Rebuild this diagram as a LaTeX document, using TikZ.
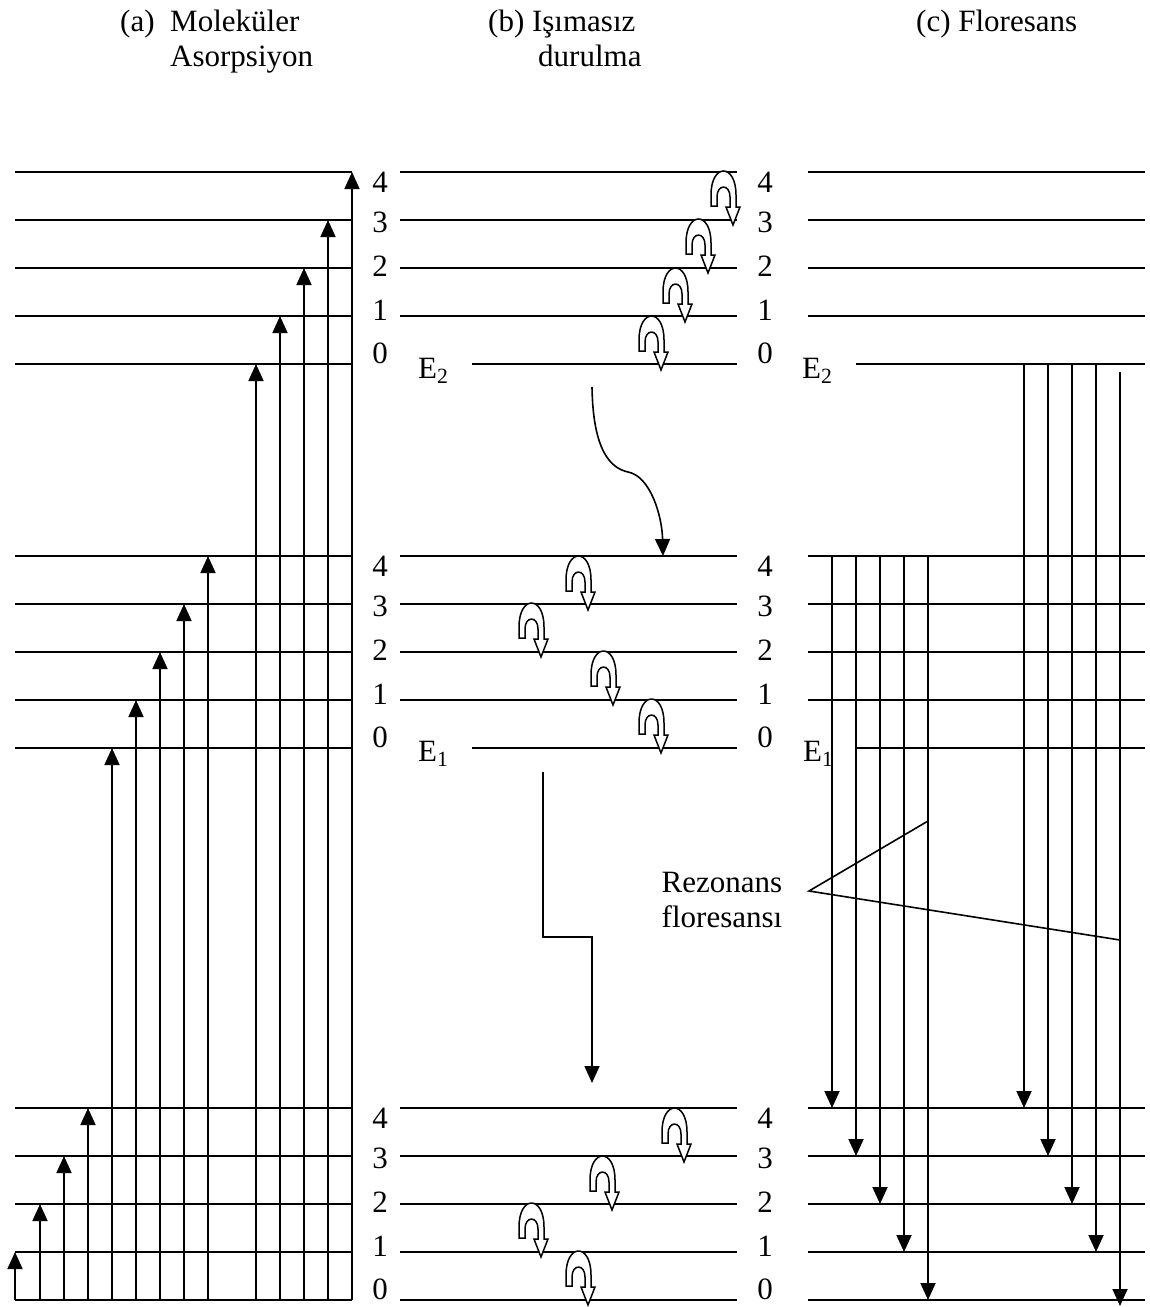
\documentclass[tikz,border=0pt]{standalone}
\usepackage{fontspec}
\setmainfont{Liberation Serif}
\usetikzlibrary{arrows.meta}
\newcommand\uarr[2]{%
  \draw[hollow] ($(#1,#2)+(-22,-19)$) -- ++(0,-11)
    .. controls +(0,-32) and +(0,-32) .. ++(25,0)
    -- ++(0,12) -- ++(4,0) -- ++(-7,18) -- ++(-7,-18) -- ++(4,0) -- ++(0,-10)
    .. controls +(0,-13.3) and +(0,-13.3) .. ++(-13,0)
    -- ++(0,9) -- cycle;}
\usetikzlibrary{calc}
\begin{document}
\begin{tikzpicture}[x=1pt,y=-1pt,
  lvl/.style={line width=1.8pt},
  uparr/.style={line width=1.8pt,-{Triangle[width=15pt,length=17pt]}},
  conn/.style={line width=1.6pt,-{Triangle[width=15pt,length=17pt]}},
  lbl/.style={font=\fontsize{31}{35}\selectfont, inner sep=0pt},
  hollow/.style={draw, line width=1.5pt, fill=white, line join=miter}
]
\useasboundingbox (0,0) rectangle (1150,1307);

% ---------- titles ----------
\node[lbl, anchor=base west] (ta) at (120,31) {(a)};
\node[lbl, anchor=base west] (ta1) at (170,31) {Moleküler};
\node[lbl, anchor=base west] (ta2) at (170,66) {Asorpsiyon};
\node[lbl, anchor=base west] (tb) at (488,31) {(b) Işımasız};
\node[lbl, anchor=base west] (tb2) at (538,66) {durulma};
\node[lbl, anchor=base west] (tc) at (916,31) {(c) Floresans};

% ---------- level lines ----------
\foreach \g in {172,556,1108}{
  \foreach \k in {0,...,4}{
    \pgfmathsetmacro\yy{\g+48*(4-\k)}
    \draw[lvl] (15,\yy) -- (352,\yy);
  }
  \foreach \k in {1,...,4}{
    \pgfmathsetmacro\yy{\g+48*(4-\k)}
    \draw[lvl] (400,\yy) -- (737,\yy);
    \draw[lvl] (808,\yy) -- (1145,\yy);
  }
  \foreach \k/\off in {4/20,3/60,2/104,1/148,0/191}{
    \pgfmathsetmacro\yy{\g+\off}
    \node[lbl, anchor=base] at (380,\yy) {\k};
    \node[lbl, anchor=base] at (765,\yy) {\k};
  }
}
\draw[lvl] (472,364) -- (737,364);
\draw[lvl] (472,748) -- (737,748);
\draw[lvl] (400,1300) -- (737,1300);
\draw[lvl] (856,364) -- (1145,364);
\draw[lvl] (856,748) -- (1145,748);
\draw[lvl] (808,1300) -- (1145,1300);

% ---------- E labels ----------
\node[lbl, anchor=base west] (e2b) at (418,378) {E\textsubscript{2}};
\node[lbl, anchor=base west] (e1b) at (418,761) {E\textsubscript{1}};
\node[lbl, anchor=base west] (e2c) at (802,378) {E\textsubscript{2}};
\node[lbl, anchor=base west] (e1c) at (803,761) {E\textsubscript{1}};

% ---------- (a) absorption arrows ----------
\foreach \x/\t in {15/1252,40/1204,64/1156,88/1108,112/748,136/700,160/652,184/604,208/556,256/364,280/316,304/268,328/220,352/172}{
  \draw[uparr] (\x,1300) -- (\x,\t);
}

% ---------- (b) non-radiative relaxation ----------
\foreach \x/\y in {733/225,708/273,685/322,661/370,588/610,541/657,613/705,661/753,684/1162,612/1210,541/1257,588/1305}{
  \uarr{\x}{\y}
}
\coordinate (w0) at (592,387);
\coordinate (w1) at (628,472);
\coordinate (w2) at (663,556);
\draw[conn] (w0) .. controls (593,450) and (610,468) .. (w1)
             .. controls (650,476) and (662,515) .. (w2);
\coordinate (s0) at (543,772);
\coordinate (s1) at (592,1083);
\draw[conn] (s0) -- (543,937) -- (592,937) -- (s1);

% ---------- (c) fluorescence arrows ----------
\foreach \x/\t in {832/1108,856/1156,880/1204,904/1252,928/1300}{
  \draw[uparr] (\x,556) -- (\x,\t);
}
\foreach \x/\t in {1024/1108,1048/1156,1072/1204,1096/1252}{
  \draw[uparr] (\x,364) -- (\x,\t);
}
\draw[uparr] (1120,372) -- (1120,1306);

\node[lbl, align=center] (rez) at (722,900) {Rezonans\\floresansı};
\coordinate (rz) at (809,891);
\coordinate (rzA) at (928,821);
\coordinate (rzB) at (1120,940);
\draw[line width=1.6pt] (rzA) -- (rz) -- (rzB);
\end{tikzpicture}
\end{document}
